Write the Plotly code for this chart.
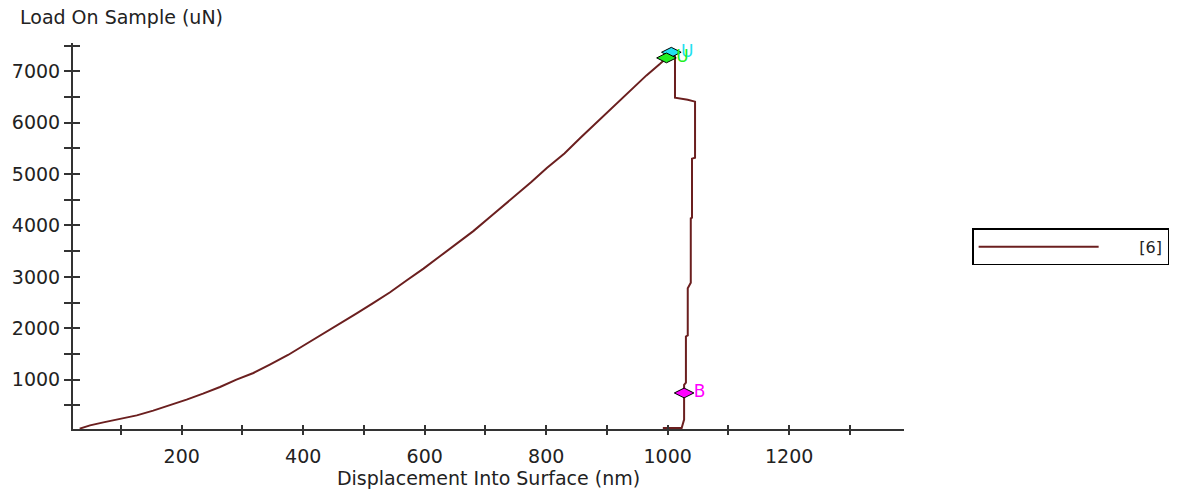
import plotly.graph_objects as go

# Loading branch: displacement (nm) and load (uN)
load_disp = [32, 49, 71, 98, 126, 153, 181, 208, 235, 263, 290, 318, 345, 375, 400,
             433, 460, 488, 515, 543, 570, 598, 625, 652, 680, 707, 746, 775, 801,
             830, 856, 883, 910, 938, 965, 987, 1000]
load_force = [47, 111, 169, 241, 305, 397, 500, 611, 728, 858, 1000, 1130, 1292, 1480,
              1660, 1890, 2090, 2290, 2490, 2700, 2930, 3160, 3400, 3640, 3890, 4160,
              4550, 4840, 5120, 5400, 5700, 6000, 6300, 6610, 6920, 7140, 7280]

# Unloading branch
unload_disp = [1012, 1012, 1033, 1045, 1045, 1040, 1040, 1038, 1038, 1035, 1033,
               1033, 1030, 1030, 1027, 1027, 1023, 992]
unload_force = [7290, 6486, 6447, 6409, 5319, 5300, 4152, 4140, 2887, 2809, 2780,
                1860, 1840, 942, 900, 222, 60, 60]

# Segment markers
marker_disp = [1006, 998, 1027]
marker_force = [7370, 7260, 741]
marker_text = ["U", "U", "B"]
marker_colors = ["#22e0f0", "#22ee22", "#ff00ff"]

series_name = "[6]"

# Axis ticks
x_tickvals = list(range(100, 1301, 100))
x_ticktext = ["", "200", "", "400", "", "600", "", "800", "", "1000", "", "1200", ""]
y_tickvals = list(range(500, 7501, 500))
y_ticktext = ["" if v % 1000 else str(v) for v in y_tickvals]

FONT = "DejaVu Sans"
TEXT_COLOR = "#222222"
AXIS_COLOR = "#333333"
LINE_COLOR = "#6b1f1f"
FS = 19

fig = go.Figure()

fig.add_trace(go.Scatter(
    x=load_disp + unload_disp,
    y=load_force + unload_force,
    mode="lines",
    name="\u00a0" * 7 + series_name,
    line=dict(color=LINE_COLOR, width=2),
))

for xd, yd, t, c in zip(marker_disp, marker_force, marker_text, marker_colors):
    fig.add_trace(go.Scatter(
        x=[xd], y=[yd], mode="markers+text",
        text=[t], textposition="middle right",
        textfont=dict(family=FONT, size=17, color=c),
        marker=dict(symbol="diamond-wide", size=14, color=c,
                    line=dict(color="#000000", width=1)),
        showlegend=False, hoverinfo="skip",
    ))

# Empty trace so the inner-tick companion axes are drawn
fig.add_trace(go.Scatter(x=[], y=[], xaxis="x2", yaxis="y2",
                         showlegend=False, hoverinfo="skip"))

tickfont = dict(family=FONT, size=FS, color=TEXT_COLOR)

fig.update_layout(
    width=1186, height=489, autosize=False,
    margin=dict(l=73, r=282, t=43, b=60, autoexpand=False),
    paper_bgcolor="white", plot_bgcolor="white",
    showlegend=True,
    legend=dict(
        x=1.082, y=0.52, xanchor="left", yanchor="top",
        bordercolor="#000000", borderwidth=1.5, bgcolor="white",
        font=dict(family=FONT, size=16, color=TEXT_COLOR),
        itemwidth=120,
    ),
    xaxis=dict(
        range=[21, 1389], showgrid=False, zeroline=False, automargin=False,
        showline=True, linecolor=AXIS_COLOR, linewidth=2,
        ticks="outside", ticklen=4, tickwidth=2, tickcolor=AXIS_COLOR,
        tickvals=x_tickvals, ticktext=x_ticktext, tickfont=tickfont,
        ticklabelstandoff=5,
        title=dict(text="Displacement Into Surface (nm)",
                   font=dict(family=FONT, size=FS, color=TEXT_COLOR), standoff=6),
    ),
    yaxis=dict(
        range=[40, 7550], showgrid=False, zeroline=False, automargin=False,
        showline=True, linecolor=AXIS_COLOR, linewidth=2,
        ticks="outside", ticklen=7, tickwidth=2, tickcolor=AXIS_COLOR,
        tickvals=y_tickvals, ticktext=y_ticktext, tickfont=tickfont,
    ),
    xaxis2=dict(
        overlaying="x", matches="x", anchor="y", side="bottom", automargin=False,
        showgrid=False, zeroline=False, showline=False,
        ticks="inside", ticklen=4, tickwidth=2, tickcolor=AXIS_COLOR,
        tickvals=x_tickvals, showticklabels=False,
    ),
    yaxis2=dict(
        overlaying="y", matches="y", anchor="x", side="left", automargin=False,
        showgrid=False, zeroline=False, showline=False,
        ticks="inside", ticklen=7, tickwidth=2, tickcolor=AXIS_COLOR,
        tickvals=y_tickvals, showticklabels=False,
    ),
    annotations=[dict(
        text="Load On Sample (uN)", xref="paper", yref="paper",
        x=-0.066, y=1.067, xanchor="left", yanchor="middle",
        showarrow=False, font=dict(family=FONT, size=FS, color=TEXT_COLOR),
    )],
)

fig.write_html("out.html")
